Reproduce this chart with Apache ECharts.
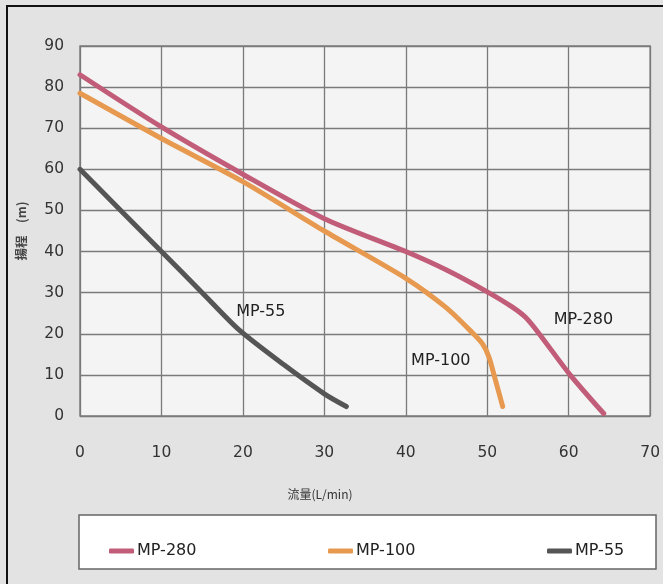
<!DOCTYPE html>
<html><head><meta charset="utf-8">
<script src="https://cdn.jsdelivr.net/npm/echarts@6/dist/echarts.min.js"></script>
<style>html,body{margin:0;padding:0;background:#e3e3e3;}#c{width:663px;height:584px;}</style>
</head><body><div id="c"></div>
<script>
const seriesNames = ['MP-280', 'MP-100', 'MP-55'];
const mp280 = [[0,83],[10,70.3],[20,58.8],[30,48],[40,40],[45,35.5],[50,30.2],[53,26.6],[54.7,24],[56.3,20.2],[60.1,10.2],[64.3,0.6]];
const mp100 = [[0,78.5],[10,67.5],[20,57],[30,45],[40,33.5],[45,26.3],[48.2,20.2],[49.4,17.6],[50.2,14.4],[51,8.8],[51.9,2.3]];
const mp55 = [[0,60],[5,50],[10,40],[15,30],[19.5,21],[25,12.5],[30,5.4],[32.7,2.3]];
const labelPos = { 'MP-280': [61.8, 23.4], 'MP-100': [44.3, 13.4], 'MP-55': [22.2, 25.4] };
const xTicks = { min: 0, max: 70, interval: 10 };
const yTicks = { min: 0, max: 90, interval: 10 };
const colors = ['#c25d79', '#e6994f', '#555555'];
const font = '"DejaVu Sans", Verdana, sans-serif';
const cjk = '"Noto Sans CJK JP", "Noto Sans", sans-serif';

const chart = echarts.init(document.getElementById('c'), null, { renderer: 'canvas' });
const datasets = [mp280, mp100, mp55];
const legendLefts = [109, 328, 547];

const option = {
  backgroundColor: '#e3e3e3',
  animation: false,
  grid: { left: 80, right: 7, top: 46, bottom: 168, show: true, backgroundColor: '#f4f4f4', borderColor: '#808080', borderWidth: 1.5 },
  xAxis: {
    type: 'value', min: xTicks.min, max: xTicks.max, interval: xTicks.interval,
    axisLine: { show: false }, axisTick: { show: false },
    axisLabel: { margin: 29, fontSize: 15.5, color: '#333', fontFamily: font },
    splitLine: { show: true, lineStyle: { color: '#7a7a7a', width: 1.3 } }
  },
  yAxis: {
    type: 'value', min: yTicks.min, max: yTicks.max, interval: yTicks.interval,
    name: '揚程\u3000(m)', nameLocation: 'middle', nameRotate: 90, nameGap: 52,
    nameTextStyle: { fontSize: 12.5, color: '#444', fontFamily: cjk, fontWeight: 'bold' },
    axisLine: { show: false }, axisTick: { show: false },
    axisLabel: { margin: 16, fontSize: 15.5, color: '#333', fontFamily: font, padding: [7, 0, 0, 0] },
    splitLine: { show: true, lineStyle: { color: '#7a7a7a', width: 1.3 } }
  },
  legend: seriesNames.map((n, i) => ({
    data: [n], left: legendLefts[i], top: 543, padding: 0, itemWidth: 25, itemHeight: 5, icon: 'roundRect',
    itemStyle: { borderWidth: 0 },
    textStyle: { fontSize: 16, color: '#222', fontFamily: font, padding: [0, 0, 0, -2] }
  })),
  graphic: [
    { type: 'rect', shape: { x: 79, y: 515, width: 577, height: 54 }, style: { fill: '#ffffff', stroke: '#666', lineWidth: 1.5 }, z: -1 },
    { type: 'rect', shape: { x: 6, y: 5, width: 2, height: 579 }, style: { fill: '#111' } },
    { type: 'rect', shape: { x: 6, y: 5, width: 657, height: 2 }, style: { fill: '#111' } },
    { type: 'text', x: 320, y: 494, style: { text: '流量(L/min)', fontSize: 12, fill: '#333', fontFamily: cjk, align: 'center', verticalAlign: 'middle' } }
  ],
  series: seriesNames.map((n, i) => ({
    name: n, type: 'line', data: datasets[i], smooth: 0.25, showSymbol: false, symbol: 'none',
    lineStyle: { color: colors[i], width: 5, cap: 'round', join: 'round' },
    itemStyle: { color: colors[i] },
    markPoint: {
      symbol: 'circle', symbolSize: 0, silent: true,
      data: [{ coord: labelPos[n] }],
      label: { show: true, formatter: n, fontSize: 16, color: '#222', fontFamily: font, position: 'inside' }
    }
  }))
};
chart.setOption(option);
</script></body></html>
